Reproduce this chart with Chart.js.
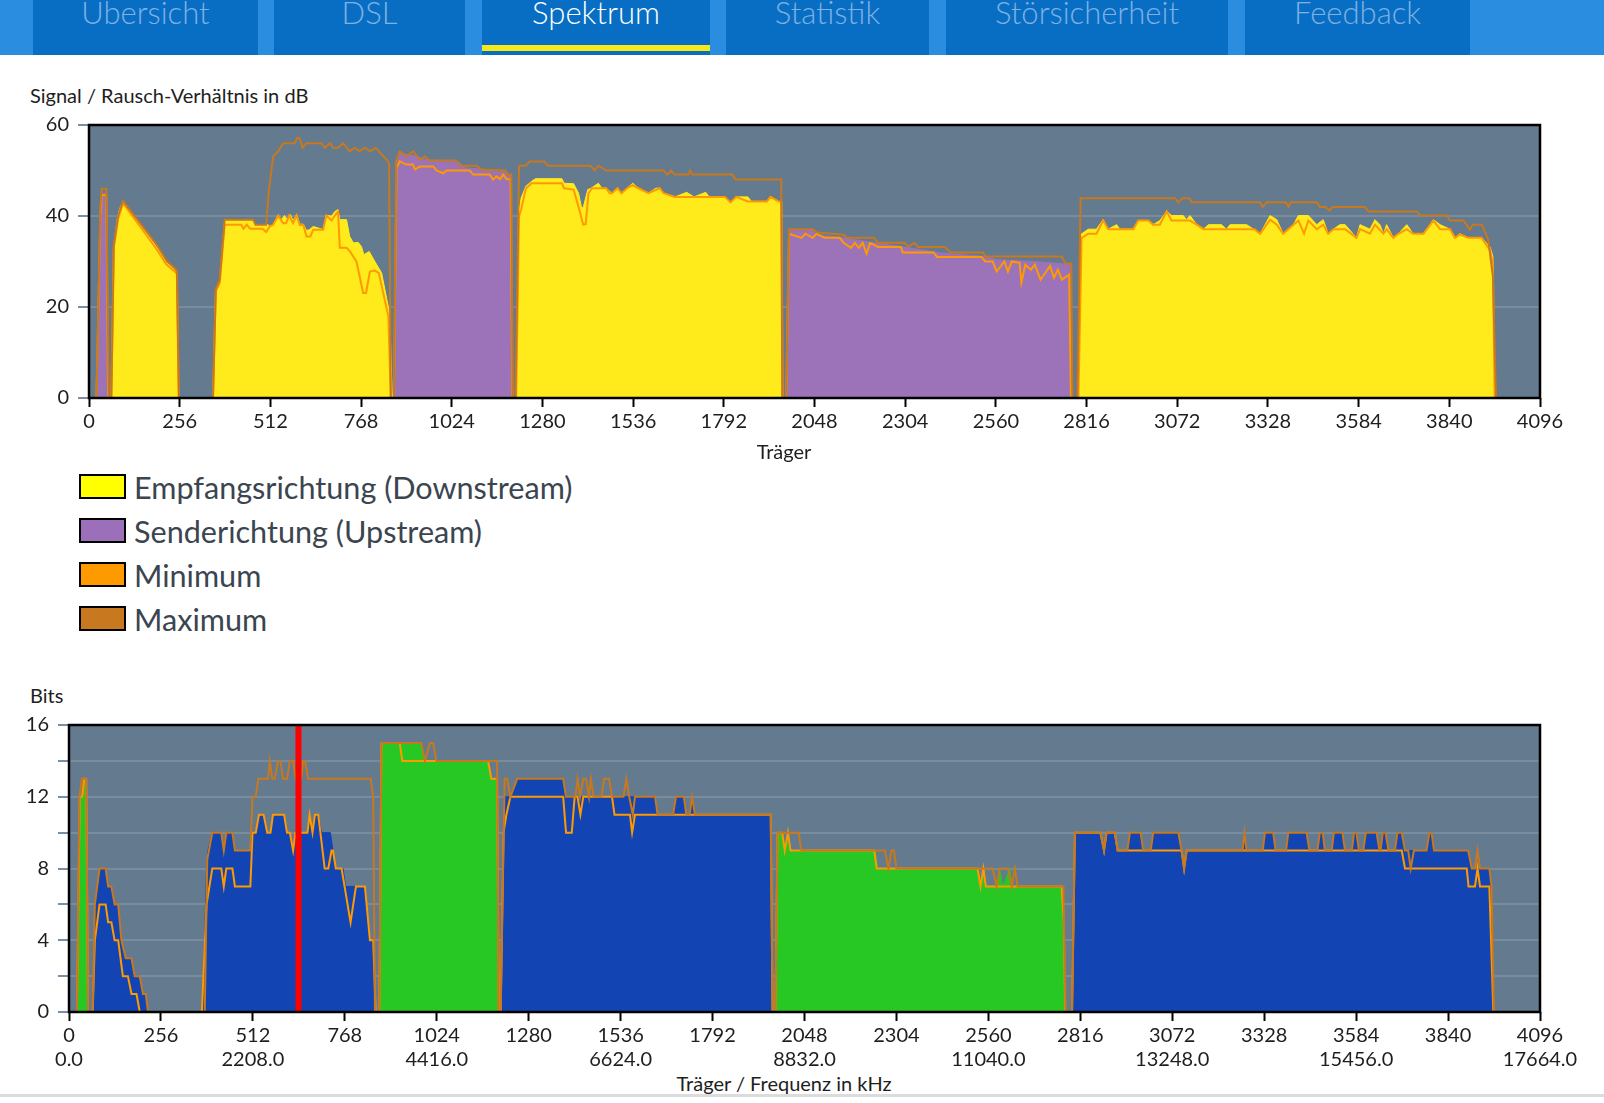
<!DOCTYPE html>
<html lang="de">
<head>
<meta charset="utf-8">
<title>Spektrum</title>
<script src="https://cdn.jsdelivr.net/npm/chart.js@4.4.1/dist/chart.umd.min.js"></script>
<style>
  html, body { margin: 0; padding: 0; background: #fff; }
  body { width: 1604px; height: 1103px; position: relative; overflow: hidden; font-family: Lato, "Noto Sans", sans-serif; }
  #nav { position: absolute; left: 0; top: 0; width: 1604px; height: 55px; background: #2a8de0; }
  .tab { position: absolute; top: 0; height: 55px; background: #086ec3; color: #7fb1e3; font-weight: 300; font-size: 31px; line-height: 31px; text-align: center; }
  .tab span { position: relative; top: -3px; }
  .tab.active { color: #fff; }
  .tab.active::after { content: ''; position: absolute; left: 0; right: 0; top: 45px; height: 6px; background: #f5e91a; }
  .label { position: absolute; font-size: 20px; line-height: 20px; color: #1e1e1e; white-space: nowrap; }
  .center { transform: translateX(-50%); }
  canvas { position: absolute; left: 0; }
  #legend { position: absolute; left: 79px; top: 474px; }
  .item { position: relative; height: 44px; }
  .box { position: absolute; left: 0; top: 0; width: 43px; height: 21px; border: 2px solid #000; }
  .item span { position: absolute; left: 55px; top: -1px; font-size: 30.6px; line-height: 30px; color: #3b4550; white-space: nowrap; }
  #footline { position: absolute; left: 0; top: 1094px; width: 1604px; height: 3px; background: #dcdcdc; }
</style>
</head>
<body>
<div id="nav"></div>

<div class="label" style="left:30px; top:85px;">Signal / Rausch-Verhältnis in dB</div>
<canvas id="snrChart" width="1604" height="340" style="top:100px; width:1604px; height:340px;"></canvas>
<div class="label center" style="left:784px; top:441px;">Träger</div>

<div id="legend"></div>

<div class="label" style="left:30px; top:685px;">Bits</div>
<canvas id="bitsChart" width="1604" height="380" style="top:691px; width:1604px; height:380px;"></canvas>
<div class="label center" style="left:784px; top:1073px;">Träger / Frequenz in kHz</div>
<div id="footline"></div>

<script>
// tabs of the page header
var tabNames = ['Übersicht', 'DSL', 'Spektrum', 'Statistik', 'Störsicherheit', 'Feedback'];
var activeTab = 'Spektrum';

// legend
var legendLabels = ['Empfangsrichtung (Downstream)', 'Senderichtung (Upstream)', 'Minimum', 'Maximum'];
var legendColors = ['#ffff00', '#9c6fba', '#ff9900', '#c8781f'];

// axes
var carrierMax = 4096;
var carrierStep = 256;
var freqLabelStep = 512;
var carrierSpacingKHz = 4.3125;
var snrMax = 60;
var bitsMaxValue = 16;

// Signal/Rausch-Verhaeltnis, [carrier, dB]
var snrDown = [
  [63,0],[70,33.3],[80,39.5],[86,41.5],[96,43.2],[190,33.3],[199,32.6],[218,29.7],[233,28.9],[242,28.2],[247,27.5],[252,0],
  [350,0],[358,23.8],[369,25.6],[383,39.2],[463,39.0],[470,38.1],[505,38.1],[512,37.6],[520,38.2],[534,40.1],[543,39.2],[552,40.1],[560,39.2],[568,40.3],[576,39.0],[586,40.3],[595,38.2],[605,38.2],[614,36.8],[622,37.0],[633,37.7],[650,37.3],[661,37.0],[670,40.1],[685,40.0],[694,41.0],[703,41.4],[708,39.2],[727,39.2],[736,35.5],[746,34.1],[760,34.2],[769,33.3],[776,31.5],[791,32.2],[807,30.0],[826,27.5],[849,18.4],[856,0],
  [1206,0],[1212,40],[1220,44.0],[1233,46.5],[1249,47.6],[1260,48.2],[1335,48.2],[1341,47.2],[1368,47.1],[1382,45.0],[1390,42.0],[1395,41.8],[1402,44.0],[1408,45.8],[1417,46.1],[1438,47.2],[1448,46.1],[1460,46.1],[1476,45.0],[1492,46.1],[1503,45.0],[1519,46.1],[1535,47.2],[1551,46.1],[1579,45.0],[1600,46.1],[1611,46.1],[1622,45.0],[1654,44.2],[1687,45.2],[1708,44.2],[1741,45.2],[1751,44.2],[1795,44.2],[1811,43.0],[1827,44.2],[1860,44.2],[1870,43.2],[1914,43.2],[1924,44.2],[1946,43.2],[1953,43.2],[1958,0],
  [2793,0],[2802,36.1],[2821,37.1],[2844,37.1],[2863,39.2],[2877,37.1],[2901,38.1],[2910,37.1],[2948,37.1],[2962,39.0],[2990,39.0],[3004,38.1],[3023,39.0],[3042,41.0],[3056,40.1],[3089,40.1],[3098,39.2],[3108,40.1],[3127,38.1],[3146,37.1],[3160,38.1],[3197,38.1],[3211,37.1],[3221,38.1],[3268,38.1],[3287,37.1],[3306,36.1],[3334,40.1],[3353,39.2],[3371,36.1],[3400,38.1],[3414,40.1],[3442,40.1],[3466,38.1],[3484,39.2],[3498,36.1],[3513,37.1],[3531,38.1],[3546,38.1],[3578,35.2],[3588,38.1],[3616,37.1],[3630,39.2],[3644,38.1],[3654,36.1],[3663,38.1],[3682,35.2],[3696,36.1],[3720,38.1],[3738,36.1],[3767,36.1],[3795,39.2],[3814,38.1],[3842,37.1],[3856,35.2],[3870,36.1],[3894,35.2],[3931,35.2],[3955,33.2],[3963,31.1],[3969,0]
];
var snrUp = [
  [21,0],[32,41],[36,45],[48,45],[53,0],
  [861,0],[868,51.5],[877,54.0],[900,53.5],[930,53.0],[945,52.4],[1045,51.8],[1060,50.6],[1110,50.3],[1179,49.8],[1185,49.1],[1193,49.1],[1198,0],
  [1968,0],[1976,36.8],[2043,36.8],[2054,35.9],[2130,35.2],[2216,34.1],[2292,33.3],[2400,31.9],[2530,31.1],[2562,30.4],[2670,30.0],[2746,29.5],[2772,29.3],[2777,0]
];
var snrMin = [
  [21,0],[32,40],[36,44.6],[49,44.6],[54,0],
  [63,0],[70,33],[82,39.3],[96,42.8],[190,32.8],[218,29.4],[242,27.8],[248,27.3],[253,0],
  [350,0],[358,23.5],[369,25.3],[383,38.1],[430,38.1],[436,37.2],[445,38.1],[455,37.2],[490,37.2],[500,36.5],[510,37.7],[520,38.1],[534,40.1],[548,38.4],[556,38.4],[565,40.1],[576,38.4],[586,40.1],[595,38.0],[605,38.0],[614,35.5],[625,35.5],[633,37.0],[661,37.0],[670,40.1],[685,39.0],[694,40.1],[703,41.0],[708,33.0],[727,33.0],[736,32.3],[755,30.0],[774,23.1],[782,23.1],[793,27.8],[807,28.0],[818,27.5],[845,18.0],[852,0],
  [861,0],[868,50.5],[877,52.0],[896,51.3],[915,51.3],[920,50.2],[934,50.9],[972,50.9],[981,50.0],[1000,49.4],[1009,50.0],[1075,50.0],[1084,49.1],[1131,49.1],[1141,48.0],[1150,48.7],[1160,48.1],[1169,49.1],[1179,48.1],[1190,48.1],[1195,0],
  [1206,0],[1214,39.9],[1220,41.5],[1233,46.0],[1249,47.2],[1335,47.2],[1341,46.1],[1368,45.8],[1382,42.0],[1395,38.1],[1402,38.2],[1410,45.0],[1420,46.1],[1460,46.1],[1470,45.0],[1476,45.0],[1492,46.1],[1503,45.0],[1519,46.1],[1535,46.8],[1551,46.1],[1579,45.0],[1611,46.1],[1622,45.0],[1654,44.2],[1741,44.2],[1795,44.2],[1811,43.0],[1827,44.2],[1860,43.2],[1914,43.2],[1924,44.2],[1946,43.2],[1955,43.0],[1958,0],
  [1968,0],[1976,36.1],[2011,35.2],[2022,36.1],[2043,35.2],[2054,36.1],[2076,35.2],[2119,35.2],[2130,34.1],[2151,33.0],[2162,34.1],[2173,33.0],[2184,34.1],[2195,31.7],[2205,34.1],[2227,33.2],[2292,33.2],[2297,32.0],[2384,32.0],[2394,31.0],[2519,31.0],[2530,30.0],[2551,30.0],[2562,27.8],[2584,30.0],[2594,27.8],[2605,30.0],[2627,29.7],[2632,25.3],[2643,29.3],[2659,28.2],[2670,29.3],[2686,26.0],[2713,29.0],[2724,26.4],[2735,28.2],[2746,26.0],[2767,27.1],[2772,0],
  [2793,0],[2802,35.2],[2821,36.1],[2844,36.1],[2863,39.0],[2877,37.1],[2948,37.1],[2962,39.0],[2990,39.0],[3004,38.1],[3023,38.1],[3042,41.0],[3056,39.0],[3108,39.0],[3127,38.1],[3146,37.1],[3290,37.1],[3306,36.1],[3334,39.2],[3353,38.1],[3371,36.1],[3400,38.1],[3414,39.0],[3430,36.1],[3442,39.0],[3466,37.1],[3484,38.1],[3498,36.1],[3513,37.1],[3546,37.1],[3578,35.2],[3588,37.1],[3616,36.1],[3630,38.1],[3654,36.1],[3663,37.1],[3682,35.2],[3696,36.1],[3720,37.1],[3738,36.1],[3767,36.1],[3795,39.0],[3814,37.1],[3842,37.1],[3856,35.2],[3870,35.9],[3894,35.2],[3931,35.2],[3955,32.5],[3963,29.5],[3968,0]
];
var snrMaxLine = [
  [21,0],[32,42],[36,46],[49,46],[56,0],
  [63,0],[70,33.5],[82,40],[96,43.3],[190,33.8],[218,30.3],[242,28.5],[248,28],[254,0],
  [350,0],[358,24],[369,26],[383,39.2],[463,39.2],[470,38.1],[500,38.1],[508,45.8],[520,53.1],[534,54.2],[548,56.0],[581,56.0],[587,57.1],[595,57.1],[603,55.0],[614,56.0],[656,56.0],[666,55.0],[680,56.0],[689,55.0],[703,55.0],[717,56.0],[736,54.2],[750,55.0],[764,54.2],[779,55.0],[793,54.2],[810,55.0],[826,53.5],[840,52.4],[847,51.6],[852,0],
  [861,0],[867,52],[877,54.2],[896,53.1],[915,54.2],[934,52.4],[948,53.1],[962,52.2],[1037,52.2],[1047,51.05],[1094,51.05],[1108,50.2],[1176,50.0],[1180,49.1],[1192,49.1],[1196,0],
  [1204,0],[1214,51.05],[1233,51.05],[1244,52.0],[1285,52.0],[1295,51.05],[1416,51.05],[1427,50.0],[1438,51.05],[1460,50.0],[1622,50.0],[1633,49.1],[1643,50.0],[1654,49.1],[1692,49.1],[1697,50.0],[1703,49.1],[1816,49.1],[1825,48.0],[1954,48.0],[1957,0],
  [1968,0],[1976,37.1],[2043,37.1],[2054,36.4],[2130,35.9],[2140,35.2],[2216,35.2],[2227,34.1],[2302,34.1],[2313,33.3],[2330,34.1],[2340,33.2],[2416,33.2],[2432,32.0],[2524,32.0],[2530,31.1],[2746,31.1],[2756,29.6],[2773,29.5],[2776,0],
  [2790,0],[2799,43.9],[3066,43.9],[3075,43.0],[3087,43.9],[3106,43.9],[3113,43.0],[3306,43.0],[3313,42.0],[3325,43.0],[3379,43.0],[3386,42.0],[3392,43.0],[3466,43.0],[3475,42.0],[3490,42.0],[3503,41.2],[3510,42.0],[3602,42.0],[3612,41.0],[3748,41.0],[3757,40.1],[3833,40.1],[3842,39.0],[3880,39.0],[3898,37.0],[3906,38.1],[3932,38.1],[3950,34.8],[3963,26.7],[3972,0]
];

// Bits pro Traeger, [carrier, bits]
var bitsDown = [
  [66,0],[72,6],[85,8],[102,8],[109,7],[118,7],[127,6],[137,6],[146,4],[158,3],[174,3],[183,2],[197,2],[206,1],[214,1],[220,0],
  [372,0],[383,8],[387,9],[399,10],[424,10],[431,9],[438,10],[455,10],[462,9],[505,9],[511,10],[520,10],[529,11],[542,11],[552,10],[561,10],[568,11],[599,11],[607,10],[615,10],[624,9],[631,10],[664,10],[670,11],[678,10],[685,11],[694,11],[703,10],[728,10],[735,9],[743,8],[763,8],[770,7],[824,7],[838,4],[847,4],[853,0],
  [1202,0],[1212,12],[1229,12],[1248,13],[1376,13],[1384,12],[1632,12],[1639,11],[1682,11],[1690,12],[1712,12],[1719,11],[1728,11],[1735,12],[1743,11],[1954,11],[1959,0],
  [2793,0],[2801,10],[2872,10],[2882,9],[2889,10],[2912,10],[2920,9],[2947,9],[2954,10],[2984,10],[2991,9],[3012,9],[3019,10],[3089,10],[3098,9],[3105,8],[3112,9],[3268,9],[3273,10],[3279,9],[3324,9],[3330,10],[3353,10],[3360,9],[3389,9],[3395,10],[3446,10],[3454,9],[3476,9],[3483,10],[3491,10],[3497,9],[3516,9],[3522,10],[3546,10],[3553,9],[3572,9],[3578,10],[3585,10],[3592,9],[3604,9],[3611,10],[3641,10],[3649,9],[3652,9],[3658,10],[3666,10],[3674,9],[3692,9],[3699,10],[3711,10],[3720,9],[3780,9],[3788,10],[3794,10],[3801,9],[3896,9],[3906,8],[3955,8],[3961,7],[3968,0]
];
var bitsUp = [
  [22,0],[30,12],[36,12],[42,13],[48,13],[53,0],
  [864,0],[870,15],[981,15],[990,14],[1167,14],[1175,13],[1192,13],[1197,0],
  [1967,0],[1973,10],[1986,10],[1993,9],[2002,10],[2009,9],[2245,9],[2252,8],[2530,8],[2538,7],[2546,8],[2553,7],[2583,7],[2591,8],[2600,7],[2620,8],[2626,7],[2769,7],[2775,0]
];
var bitsMin = [
  [22,0],[30,12],[37,12],[42,13],[48,13],[53,0],
  [66,0],[72,4],[85,6],[102,6],[109,5],[118,5],[127,4],[137,4],[150,2],[164,2],[174,1],[188,1],[197,0],
  [370,0],[383,6],[399,8],[424,8],[431,7],[438,8],[455,8],[462,7],[505,7],[511,10],[520,10],[529,11],[542,11],[552,10],[561,10],[568,11],[599,11],[607,10],[615,10],[624,9],[631,10],[664,10],[670,11],[678,10],[685,11],[694,11],[712,8],[722,8],[731,9],[735,9],[743,8],[759,8],[784,5],[799,7],[824,7],[838,4],[847,4],[854,0],
  [864,0],[870,15],[921,15],[928,14],[1167,14],[1176,13],[1192,13],[1197,0],
  [1202,0],[1210,10],[1218,11],[1229,12],[1376,12],[1384,10],[1400,10],[1408,12],[1416,12],[1424,11],[1432,12],[1512,12],[1519,11],[1562,11],[1568,10],[1576,11],[1954,11],[1959,0],
  [1967,0],[1973,10],[1986,10],[1993,9],[2002,10],[2009,9],[2242,9],[2249,8],[2530,8],[2538,7],[2546,8],[2553,7],[2764,7],[2770,5],[2774,0],
  [2793,0],[2801,10],[2872,10],[2882,9],[2889,10],[2912,10],[2920,9],[3098,9],[3105,8],[3112,9],[3711,9],[3720,8],[3892,8],[3897,7],[3915,7],[3922,8],[3929,7],[3955,7],[3966,0]
];
var bitsMaxLine = [
  [22,0],[29,12],[36,13],[48,13],[53,0],
  [66,0],[72,6],[85,8],[102,8],[109,7],[118,7],[127,6],[137,6],[146,4],[158,3],[174,3],[183,2],[197,2],[206,1],[214,1],[220,0],
  [378,0],[385,8.5],[399,10],[424,10],[431,9],[438,10],[455,10],[462,9],[505,9],[511,12],[520,12],[527,13],[554,13],[559,14],[566,13],[573,13],[582,14],[589,14],[596,13],[607,13],[615,14],[624,14],[631,13],[647,13],[652,14],[657,14],[666,13],[840,13],[847,12],[852,0],
  [864,0],[870,15],[981,15],[991,14],[1005,15],[1014,15],[1023,14],[1192,14],[1196,0],
  [1202,0],[1213,13],[1220,13],[1229,12],[1248,13],[1376,13],[1384,12],[1410,12],[1416,13],[1423,12],[1432,13],[1440,13],[1448,12],[1453,13],[1461,12],[1483,12],[1490,13],[1504,13],[1512,12],[1544,12],[1552,13],[1560,12],[1570,11],[1576,12],[1632,12],[1639,11],[1682,11],[1690,12],[1712,12],[1719,11],[1728,11],[1735,12],[1743,11],[1954,11],[1959,0],
  [1967,0],[1973,10],[2032,10],[2039,9],[2272,9],[2282,8],[2290,9],[2297,9],[2304,8],[2572,8],[2583,7],[2591,8],[2615,8],[2625,7],[2634,8],[2641,7],[2769,7],[2775,0],
  [2793,0],[2801,10],[2872,10],[2882,9],[2889,10],[2912,10],[2920,9],[2947,9],[2954,10],[2984,10],[2991,9],[3012,9],[3019,10],[3089,10],[3098,9],[3105,8],[3112,9],[3268,9],[3273,10],[3279,9],[3324,9],[3330,10],[3353,10],[3360,9],[3389,9],[3395,10],[3446,10],[3454,9],[3476,9],[3483,10],[3491,10],[3497,9],[3516,9],[3522,10],[3546,10],[3553,9],[3572,9],[3578,10],[3585,10],[3592,9],[3604,9],[3611,10],[3641,10],[3649,9],[3652,9],[3658,10],[3666,10],[3674,9],[3692,9],[3699,10],[3711,10],[3720,9],[3729,9],[3736,8],[3745,9],[3780,9],[3788,10],[3794,10],[3801,9],[3896,9],[3906,8],[3915,8],[3922,9],[3929,8],[3955,8],[3961,7],[3968,0]
];
// red marker in the bits chart
var markerCarrier = 639;

// ---- header tabs
var tabBoxes = [[33, 225], [274, 191], [482, 228], [726, 203], [946, 282], [1245, 225]];
var nav = document.getElementById('nav');
tabNames.forEach(function (name, i) {
  var d = document.createElement('div');
  d.className = 'tab' + (name === activeTab ? ' active' : '');
  d.style.left = tabBoxes[i][0] + 'px';
  d.style.width = tabBoxes[i][1] + 'px';
  d.innerHTML = '<span>' + name + '</span>';
  nav.appendChild(d);
});

// ---- legend
var legend = document.getElementById('legend');
legendLabels.forEach(function (label, i) {
  var d = document.createElement('div');
  d.className = 'item';
  d.innerHTML = '<div class="box" style="background:' + legendColors[i] + '"></div><span>' + label + '</span>';
  legend.appendChild(d);
});

// ---- charts
Chart.defaults.font.family = 'Lato';
Chart.defaults.font.size = 20;
Chart.defaults.color = '#1e1e1e';

function pts(pairs) {
  return pairs.map(function (p) { return { x: p[0], y: p[1] }; });
}

// plot background and black frame
var plotFrame = {
  id: 'plotFrame',
  beforeDraw: function (chart) {
    var a = chart.chartArea, ctx = chart.ctx;
    ctx.save();
    ctx.fillStyle = '#637a8f';
    ctx.fillRect(a.left, a.top, a.right - a.left, a.bottom - a.top);
    ctx.restore();
  },
  afterDatasetsDraw: function (chart) {
    var a = chart.chartArea, ctx = chart.ctx;
    ctx.save();
    ctx.strokeStyle = '#000';
    ctx.lineWidth = 2.5;
    ctx.strokeRect(a.left, a.top, a.right - a.left, a.bottom - a.top);
    ctx.restore();
  }
};

function areaSet(data, color, order) {
  return { data: pts(data), backgroundColor: color, borderColor: color, borderWidth: 1,
           fill: 'origin', pointRadius: 0, tension: 0, order: order };
}
function lineSet(data, color, order) {
  return { data: pts(data), borderColor: color, borderWidth: 2, fill: false,
           pointRadius: 0, tension: 0, order: order };
}

function makeOptions(yMax, yStep, yLabelEvery, yWidth, xHeight, padTop, tickLabel) {
  return {
    responsive: false,
    devicePixelRatio: 1,
    animation: false,
    layout: { padding: { top: padTop, right: 64, left: 0, bottom: 0 } },
    plugins: { legend: { display: false }, tooltip: { enabled: false } },
    scales: {
      x: {
        type: 'linear', min: 0, max: carrierMax,
        afterFit: function (s) { s.height = xHeight; },
        border: { display: false },
        grid: { drawOnChartArea: false, tickLength: 9, tickWidth: 2, tickColor: '#000' },
        ticks: { stepSize: carrierStep, autoSkip: false, maxRotation: 0, padding: 3, callback: tickLabel }
      },
      y: {
        min: 0, max: yMax,
        afterFit: function (s) { s.width = yWidth; },
        border: { display: false },
        grid: { color: 'rgba(255,255,255,0.14)', lineWidth: 2, tickLength: 11, tickWidth: 2, tickColor: '#7a8fa5' },
        ticks: { stepSize: yStep, padding: 9,
                 callback: function (v) { return v % yLabelEvery === 0 ? String(v) : ''; } }
      }
    }
  };
}

new Chart(document.getElementById('snrChart'), {
  type: 'line',
  data: {
    datasets: [
      lineSet(snrMaxLine, '#c8781f', 0),
      lineSet(snrMin, '#ff9900', 1),
      areaSet(snrDown, '#ffea1c', 2),
      areaSet(snrUp, '#9c73b9', 3)
    ]
  },
  options: makeOptions(snrMax, 20, 20, 89, 42, 25, function (v) { return String(v); }),
  plugins: [plotFrame]
});

new Chart(document.getElementById('bitsChart'), {
  type: 'line',
  data: {
    datasets: [
      { data: [{ x: markerCarrier, y: 0 }, { x: markerCarrier, y: bitsMaxValue }],
        borderColor: '#ff0000', borderWidth: 6, pointRadius: 0, fill: false, order: -1 },
      lineSet(bitsMaxLine, '#c8781f', 0),
      lineSet(bitsMin, '#ff9900', 1),
      areaSet(bitsDown, '#1245b3', 2),
      areaSet(bitsUp, '#28c824', 3)
    ]
  },
  options: makeOptions(bitsMaxValue, 2, 4, 69, 59, 34, function (v) {
    var freq = v % freqLabelStep === 0 ? (v * carrierSpacingKHz).toFixed(1) : '';
    return [String(v), freq];
  }),
  plugins: [plotFrame]
});
</script>
</body>
</html>
